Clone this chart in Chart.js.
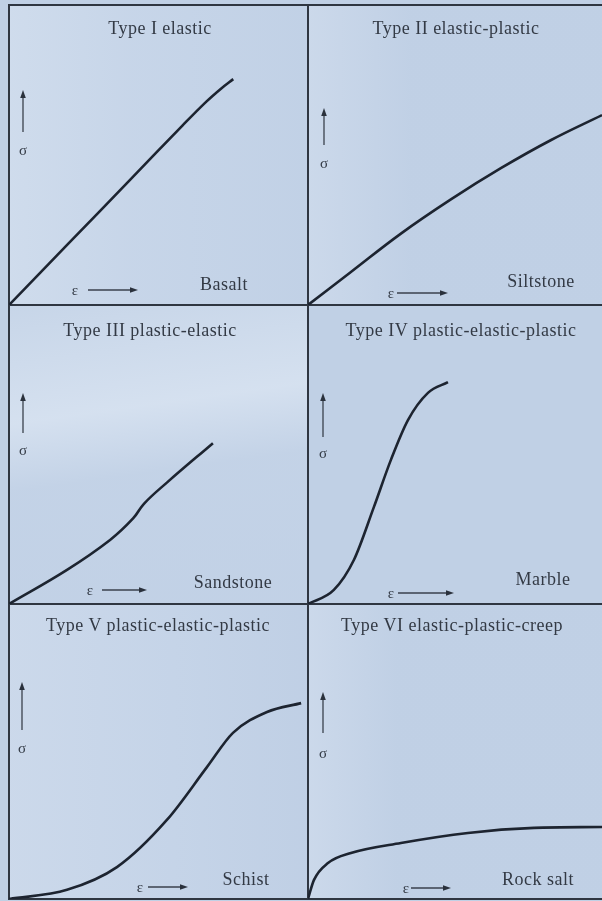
<!DOCTYPE html>
<html>
<head>
<meta charset="utf-8">
<script src="https://cdn.jsdelivr.net/npm/chart.js@4/dist/chart.umd.min.js"></script>
<style>
  html, body { margin: 0; padding: 0; }
  body {
    width: 602px; height: 901px; position: relative; overflow: hidden;
    background: #c0d0e5;
    font-family: "Liberation Serif", "DejaVu Serif", serif;
  }
  .wash { position: absolute; pointer-events: none; }
  canvas { position: absolute; }
  .frame-top { position: absolute; left: 8px; top: 4px; width: 594px; height: 2px; background: #2f3641; }
  .lbl {
    position: absolute; transform: translate(-50%, -50%); white-space: nowrap;
    color: #333a45; font-size: 18px; letter-spacing: 0.5px; line-height: 1;
  }
  .sym { position: absolute; transform: translate(-50%, -50%); color: #333a45; font-size: 15px; line-height: 1; }
  svg.arrows { position: absolute; left: 0; top: 0; }
</style>
</head>
<body>
<!-- soft background washes -->
<div class="wash" style="left:9px;top:5px;width:299px;height:300px;background:linear-gradient(90deg,rgba(235,242,250,0.35),rgba(220,230,244,0.25) 40%,rgba(200,215,235,0.15));"></div>
<div class="wash" style="left:9px;top:305px;width:299px;height:299px;background:linear-gradient(172deg,rgba(215,226,240,0.3) 0%,rgba(230,238,248,0.55) 35%,rgba(205,218,236,0.25) 55%,rgba(200,214,234,0.2) 100%);"></div>
<div class="wash" style="left:9px;top:604px;width:299px;height:295px;background:linear-gradient(90deg,rgba(225,233,245,0.35),rgba(210,222,240,0.25) 60%,rgba(190,205,228,0.2));"></div>
<div class="wash" style="left:308px;top:5px;width:294px;height:300px;background:linear-gradient(90deg,rgba(225,233,245,0.35),rgba(195,210,232,0.05) 35%);"></div>
<div class="wash" style="left:308px;top:604px;width:294px;height:295px;background:linear-gradient(90deg,rgba(225,233,245,0.35),rgba(195,210,232,0.05) 30%);"></div>

<div class="frame-top"></div>

<canvas id="c1" width="302" height="302" style="left:6px;top:5px"></canvas>
<canvas id="c2" width="297" height="302" style="left:305px;top:5px"></canvas>
<canvas id="c3" width="302" height="301" style="left:6px;top:305px"></canvas>
<canvas id="c4" width="297" height="301" style="left:305px;top:305px"></canvas>
<canvas id="c5" width="302" height="297" style="left:6px;top:604px"></canvas>
<canvas id="c6" width="297" height="297" style="left:305px;top:604px"></canvas>

<svg class="arrows" width="602" height="901" id="arrows"></svg>

<script>
// Stress–strain curves for six rock types (strain and stress in relative units, 0–100)
const panelTitles = [
  "Type I elastic",
  "Type II elastic-plastic",
  "Type III plastic-elastic",
  "Type IV plastic-elastic-plastic",
  "Type V plastic-elastic-plastic",
  "Type VI elastic-plastic-creep"
];
const rockNames = ["Basalt", "Siltstone", "Sandstone", "Marble", "Schist", "Rock salt"];

const basaltStrain    = [0, 20, 40, 58, 66, 71, 75];
const basaltStress    = [0, 20.6, 41.2, 59.8, 67.8, 72.2, 75.3];

const siltstoneStrain = [0, 14.6, 31.6, 48.6, 65.6, 82.7, 100];
const siltstoneStress = [0, 11.0, 23.8, 35.2, 45.6, 55.0, 63.3];

const sandstoneStrain = [0, 19.4, 33.8, 41.5, 45.2, 52.8, 68.2];
const sandstoneStress = [0, 11.4, 21.4, 28.6, 33.6, 40.6, 53.8];

const marbleStrain    = [0, 8.8, 15.6, 22.4, 28.2, 34.0, 40.8, 47.6];
const marbleStress    = [0, 4.7, 14.7, 32.4, 48.2, 61.5, 70.6, 74.2];

const schistStrain    = [0, 19.4, 36.1, 52.8, 66.2, 74.9, 86.3, 97.7];
const schistStress    = [0, 3.1, 10.8, 26.8, 44.7, 56.3, 63.4, 66.4];

const rockSaltStrain  = [0, 2.0, 6.8, 14.6, 31.6, 54.4, 76.9, 100];
const rockSaltStress  = [0, 6.4, 12.2, 15.6, 19.0, 22.4, 24.1, 24.4];

const strainSeries = [basaltStrain, siltstoneStrain, sandstoneStrain, marbleStrain, schistStrain, rockSaltStrain];
const stressSeries = [basaltStress, siltstoneStress, sandstoneStress, marbleStress, schistStress, rockSaltStress];
// Marble, schist and rock salt bend sharply, so they keep monotone smoothing
const smoothing = ["default", "default", "default", "monotone", "monotone", "monotone"];

const INK = "#1d2430";
const FRAME = "#2f3641";

function axis() {
  return {
    type: "linear", min: 0, max: 100,
    grid: { display: false, drawTicks: false },
    ticks: { display: false },
    border: { display: true, color: FRAME, width: 2 }
  };
}

function makeChart(id, strain, stress, mode) {
  const points = strain.map((x, i) => ({ x: x, y: stress[i] }));
  return new Chart(document.getElementById(id), {
    type: "line",
    data: {
      datasets: [{
        data: points,
        borderColor: INK,
        borderWidth: 2.6,
        pointRadius: 0,
        fill: false,
        tension: 0.4,
        cubicInterpolationMode: mode
      }]
    },
    options: {
      responsive: false,
      animation: false,
      devicePixelRatio: 1,
      layout: { padding: { left: 3, right: 0, top: 0, bottom: 2 } },
      plugins: { legend: { display: false }, tooltip: { enabled: false }, title: { display: false } },
      scales: { x: axis(), y: axis() }
    }
  });
}

for (let i = 0; i < 6; i++) {
  makeChart("c" + (i + 1), strainSeries[i], stressSeries[i], smoothing[i]);
}

// Text placement (page pixels, centre of each label)
const titlePos = [[160, 28], [456, 28], [150, 330], [461, 330], [158, 625], [452, 625]];
const namePos  = [[224, 284], [541, 281], [233, 582], [543, 579], [246, 879], [538, 879]];
// Axis arrows: sigma (x, tipY, tailY, labelY) and epsilon (labelX, y, x0, x1)
const sigmaArrows = [[23, 90, 132, 150], [324, 108, 145, 163], [23, 393, 433, 450], [323, 393, 437, 453], [22, 682, 730, 748], [323, 692, 733, 753]];
const epsArrows   = [[75, 290, 88, 138], [391, 293, 397, 448], [90, 590, 102, 147], [391, 593, 398, 454], [140, 887, 148, 188], [406, 888, 411, 451]];

function addLabel(cls, text, x, y) {
  const d = document.createElement("div");
  d.className = cls;
  d.textContent = text;
  d.style.left = x + "px";
  d.style.top = y + "px";
  document.body.appendChild(d);
}

const svg = document.getElementById("arrows");
const NS = "http://www.w3.org/2000/svg";
function svgEl(tag, attrs) {
  const e = document.createElementNS(NS, tag);
  for (const k in attrs) e.setAttribute(k, attrs[k]);
  svg.appendChild(e);
}

for (let i = 0; i < 6; i++) {
  addLabel("lbl", panelTitles[i], titlePos[i][0], titlePos[i][1]);
  addLabel("lbl", rockNames[i], namePos[i][0], namePos[i][1]);

  const [sx, tip, tail, sy] = sigmaArrows[i];
  svgEl("line", { x1: sx, y1: tail, x2: sx, y2: tip + 6, stroke: "#3a414c", "stroke-width": 1.3 });
  svgEl("polygon", { points: `${sx},${tip} ${sx - 2.8},${tip + 8} ${sx + 2.8},${tip + 8}`, fill: "#2a313c" });
  addLabel("sym", "\u03C3", sx, sy);

  const [ex, ey, x0, x1] = epsArrows[i];
  svgEl("line", { x1: x0, y1: ey, x2: x1 - 6, y2: ey, stroke: "#3a414c", "stroke-width": 1.3 });
  svgEl("polygon", { points: `${x1},${ey} ${x1 - 8},${ey - 2.8} ${x1 - 8},${ey + 2.8}`, fill: "#2a313c" });
  addLabel("sym", "\u03B5", ex, ey);
}
</script>
</body>
</html>
